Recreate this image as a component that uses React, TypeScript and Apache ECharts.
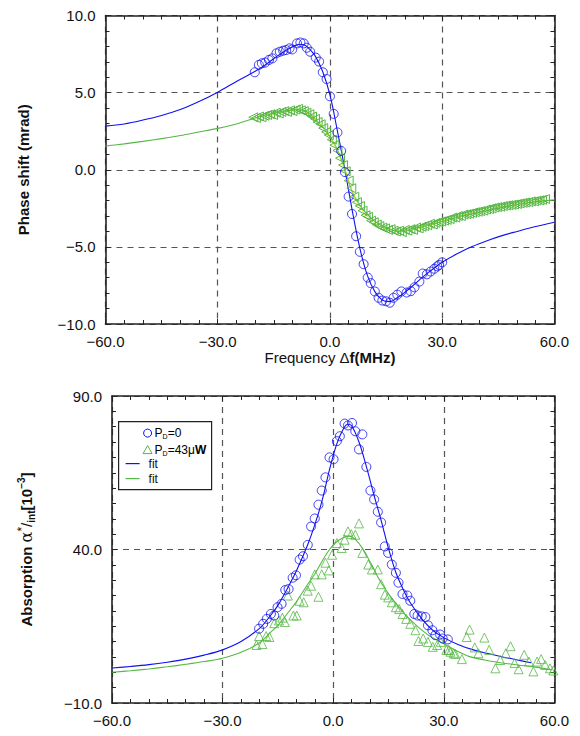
import React, { useEffect, useRef } from "react";
import * as echarts from "echarts";

// ---------- Data ----------
// Top panel: phase shift (mrad) vs frequency detuning (MHz)
const phaseP0: number[][] = [
  [-20.1, 6.32], [-19.0, 6.8], [-18.2, 6.9], [-17.3, 6.95], [-16.3, 7.12], [-15.4, 7.22],
  [-14.3, 7.55], [-13.4, 7.65], [-12.5, 7.72], [-11.7, 7.76], [-10.8, 7.87], [-10.1, 7.8],
  [-8.8, 8.19], [-7.9, 8.25], [-7.0, 8.19], [-6.2, 7.91], [-5.3, 7.65], [-3.8, 7.27],
  [-2.9, 7.01], [-1.9, 6.32], [-0.9, 5.88], [0.0, 4.76], [1.0, 3.62], [2.0, 2.42],
  [3.0, 1.22], [4.0, -0.15], [5.0, -1.74], [5.9, -2.87], [7.0, -4.31], [8.0, -5.32],
  [9.0, -6.12], [10.1, -6.99], [10.9, -7.35], [12.0, -7.89], [13.0, -8.3], [14.0, -8.48],
  [15.0, -8.53], [16.0, -8.62], [17.0, -8.3], [18.0, -8.1], [19.1, -7.89], [20.5, -7.96],
  [21.6, -7.87], [22.6, -7.62], [23.9, -7.25], [24.8, -6.73], [25.9, -6.78], [26.9, -6.6],
  [27.9, -6.42], [28.7, -6.26], [29.2, -6.17], [30.0, -6.0]
];
const phaseP43: number[][] = [
  [-20.5, 3.4], [-19.8, 3.35], [-19.0, 3.45], [-18.3, 3.4], [-17.5, 3.5], [-16.8, 3.55],
  [-16.0, 3.6], [-15.2, 3.55], [-14.5, 3.7], [-13.7, 3.65], [-13.0, 3.75], [-12.2, 3.8],
  [-11.5, 3.75], [-10.7, 3.85], [-10.0, 3.8], [-9.2, 3.9], [-8.5, 3.95], [-7.8, 3.85],
  [-7.0, 3.8], [-6.3, 3.7], [-5.5, 3.6], [-4.8, 3.45], [-4.0, 3.3], [-3.3, 3.1],
  [-2.5, 2.95], [-1.8, 2.7], [-1.0, 2.45], [-0.3, 2.25], [0.5, 1.95], [1.2, 1.6],
  [2.0, 1.25], [2.7, 0.75], [3.5, 0.3], [4.2, -0.1], [5.0, -0.7], [5.7, -1.2],
  [6.5, -1.75], [7.2, -2.1], [8.0, -2.35], [8.7, -2.65], [9.5, -2.95], [10.2, -3.05],
  [11.0, -3.3], [11.7, -3.4], [12.5, -3.55], [13.2, -3.65], [14.0, -3.75], [14.7, -3.8],
  [15.5, -3.9], [16.2, -3.85], [17.0, -3.95], [17.7, -4.0], [18.5, -3.95], [19.2, -4.05],
  [20.0, -3.9], [20.7, -3.95], [21.5, -3.85], [22.2, -3.9], [23.0, -3.75], [23.7, -3.8],
  [24.5, -3.7], [25.2, -3.65], [26.0, -3.6], [26.7, -3.5], [27.5, -3.55], [28.2, -3.45],
  [29.0, -3.4], [29.7, -3.35], [30.5, -3.3], [31.2, -3.25], [32.0, -3.2], [32.7, -3.1],
  [33.5, -3.1], [34.2, -3.0], [35.0, -3.0], [35.7, -2.9], [36.5, -2.88], [37.2, -2.85],
  [38.0, -2.8], [38.7, -2.75], [39.5, -2.72], [40.2, -2.68], [41.0, -2.65], [41.7, -2.58],
  [42.5, -2.55], [43.2, -2.5], [44.0, -2.45], [44.7, -2.42], [45.5, -2.4], [46.2, -2.35],
  [47.0, -2.32], [47.7, -2.3], [48.5, -2.28], [49.2, -2.25], [50.0, -2.22], [50.7, -2.18],
  [51.5, -2.15], [52.2, -2.12], [53.0, -2.1], [53.7, -2.05], [54.5, -2.05], [55.2, -2.0],
  [56.0, -1.98], [56.7, -1.95], [57.5, -1.9]
];
const phaseFitP0: number[][] = [
  [-60, 2.83], [-55, 2.97], [-50, 3.22], [-45, 3.52], [-40, 3.9], [-35, 4.42], [-30, 5.03],
  [-25, 5.72], [-20, 6.38], [-17, 6.85], [-14, 7.38], [-11, 7.85], [-9, 8.08], [-8, 8.14],
  [-7, 8.1], [-6, 7.95], [-4, 7.4], [-2, 6.4], [0, 4.85], [2, 2.5], [4, 0.0], [6, -2.7],
  [8, -5.1], [10, -6.85], [12, -7.9], [14, -8.45], [16, -8.55], [18, -8.3], [20, -7.95],
  [22, -7.55], [24, -7.12], [26, -6.72], [28, -6.35], [30, -6.0], [34, -5.45], [38, -4.98],
  [42, -4.6], [46, -4.27], [50, -4.0], [55, -3.68], [60, -3.4]
];
const phaseFitP43: number[][] = [
  [-60, 1.54], [-55, 1.68], [-50, 1.84], [-45, 2.02], [-40, 2.22], [-35, 2.45], [-30, 2.68],
  [-25, 2.97], [-20, 3.36], [-15, 3.65], [-12, 3.8], [-9, 3.9], [-7, 3.85], [-5, 3.55],
  [-3, 3.05], [-1, 2.5], [0, 2.15], [2, 1.3], [4, 0.0], [6, -1.45], [8, -2.3], [10, -2.9],
  [12, -3.35], [14, -3.65], [16, -3.85], [18, -3.97], [20, -3.98], [22, -3.88], [25, -3.65],
  [30, -3.35], [35, -3.02], [40, -2.75], [45, -2.5], [50, -2.25], [55, -2.07], [60, -1.95]
];

// Bottom panel: absorption (10^-3) vs frequency detuning (MHz)
const absP0: number[][] = [
  [-20.1, 14.2], [-19.0, 15.8], [-18.0, 17.4], [-16.9, 19.0], [-16.0, 18.5], [-15.1, 21.2],
  [-14.0, 22.3], [-13.0, 26.8], [-12.1, 27.1], [-11.0, 30.8], [-10.1, 31.6], [-9.1, 36.7],
  [-8.2, 37.8], [-6.9, 41.5], [-6.0, 47.5], [-5.0, 50.1], [-4.0, 54.6], [-3.1, 59.2],
  [-2.1, 63.5], [-1.0, 70.0], [0.1, 69.4], [1.0, 75.3], [1.8, 76.9], [3.1, 81.0],
  [4.0, 80.4], [5.1, 81.2], [6.0, 78.5], [7.0, 72.6], [7.9, 77.5], [9.0, 66.9],
  [10.1, 59.2], [11.1, 56.3], [12.1, 52.3], [13.0, 48.8], [14.0, 41.0], [14.9, 38.9],
  [15.9, 35.1], [17.0, 32.4], [17.7, 29.2], [18.8, 25.5], [20.1, 25.0], [20.9, 23.3],
  [22.0, 19.0], [22.9, 18.5], [24.0, 18.2], [25.0, 18.0], [25.7, 15.3], [26.9, 13.7],
  [27.7, 12.1], [29.0, 12.3], [29.7, 11.0], [31.1, 10.7]
];
const absP43: number[][] = [
  [-20.8, 8.9], [-19.2, 9.2], [-20.1, 11.8], [-18.2, 11.8], [-17.3, 11.5], [-16.0, 16.0],
  [-14.7, 16.9], [-13.8, 17.8], [-13.1, 16.4], [-12.3, 25.0], [-10.8, 18.5], [-9.9, 18.5],
  [-9.1, 23.3], [-8.0, 22.8], [-6.9, 26.6], [-6.0, 28.2], [-5.0, 31.9], [-4.0, 24.6],
  [-3.1, 31.9], [-2.1, 35.7], [-1.2, 33.2], [-0.3, 38.3], [1.0, 42.1], [2.3, 40.5],
  [3.1, 43.2], [4.0, 45.9], [4.9, 45.0], [6.0, 44.8], [7.0, 48.5], [7.9, 38.9],
  [9.5, 35.1], [10.5, 33.5], [12.1, 33.5], [13.0, 28.7], [14.0, 25.3], [14.9, 24.4],
  [15.9, 22.8], [17.0, 21.2], [17.9, 20.6], [18.8, 19.0], [19.8, 17.4], [20.9, 15.8],
  [22.3, 13.7], [23.1, 10.2], [24.4, 11.0], [25.7, 9.9], [27.0, 8.3], [28.2, 8.9],
  [29.2, 9.9], [30.7, 7.3], [31.4, 7.3], [31.8, 6.7], [32.7, 6.2], [33.1, 6.0],
  [34.9, 4.3], [36.2, 11.5], [37.0, 13.9], [38.4, 8.1], [39.4, 6.2], [41.0, 11.3],
  [42.3, 7.3], [44.0, 1.3], [45.3, 4.0], [46.8, 6.2], [48.1, 8.5], [49.2, 3.0],
  [50.3, 1.0], [51.8, 5.7], [53.1, 3.5], [54.3, 0.3], [55.3, 3.5], [56.4, 4.3],
  [57.5, 2.4], [58.8, 1.3], [59.7, 0.6]
];
const absFitP0: number[][] = [
  [-60, 1.4], [-55, 1.9], [-50, 2.5], [-45, 3.3], [-40, 4.3], [-35, 5.6], [-30, 7.3],
  [-25, 10.0], [-20, 14.3], [-17, 18.5], [-15, 21.8], [-12, 28.3], [-10, 33.0], [-7, 41.3],
  [-5, 48.0], [-3, 56.0], [-1, 66.0], [1, 74.5], [3, 79.8], [4, 80.8], [5, 80.3], [7, 75.0],
  [9, 67.0], [11, 58.0], [13, 49.5], [15, 40.3], [17, 32.5], [19, 27.0], [21, 22.5],
  [24, 17.5], [27, 13.7], [30, 11.3], [34, 9.0], [38, 7.3], [42, 6.1], [46, 5.0],
  [50, 4.0], [53.7, 3.1]
];
const absFitP43: number[][] = [
  [-60, 0.0], [-55, 0.5], [-50, 1.1], [-45, 1.8], [-40, 2.6], [-35, 3.5], [-30, 4.6],
  [-25, 6.5], [-20, 9.6], [-17, 13.0], [-15, 15.3], [-12, 19.8], [-10, 23.0], [-7, 28.5],
  [-5, 32.0], [-3, 36.2], [-1, 40.0], [1, 42.6], [3, 44.0], [4.5, 44.3], [6, 43.3],
  [8, 40.3], [10, 36.0], [12, 31.3], [14, 27.3], [16, 24.0], [18, 21.0], [20, 18.2],
  [23, 14.8], [26, 12.0], [30, 9.3], [33, 7.3], [37, 5.1], [41, 4.0], [45, 3.2],
  [50, 2.4], [55, 1.7], [59.3, 0.8]
];

const xTicks = { min: -60, max: 60, interval: 30 };
const phaseTicks = { min: -10, max: 10, interval: 5 };
const absTicks = { min: -10, max: 90, interval: 50 };

const BLUE = "#1010f0";
const GREEN = "#55b845";
const FONT = "'Liberation Sans', Arial, Helvetica, sans-serif";

const fmt = (v: number) => (v < 0 ? "\u2212" : "") + Math.abs(v).toFixed(1);

function axisBase(show: boolean) {
  return {
    axisLine: { show: true, onZero: false, lineStyle: { color: "#222", width: 1.6 } },
    axisTick: { show: true, inside: true, length: 5, lineStyle: { color: "#222", width: 1 } },
    minorTick: { show: true, length: 4, lineStyle: { color: "#222", width: 1 } },
    axisLabel: show
      ? { show: true, formatter: fmt, color: "#111", fontSize: 15, fontFamily: FONT, margin: 10 }
      : { show: false },
  };
}

const splitDash = {
  show: true,
  lineStyle: { color: "#555", type: [6, 5] as any, width: 1.2 },
};

export default function App() {
  const ref = useRef<HTMLDivElement>(null);
  useEffect(() => {
    if (!ref.current) return;
    const chart = echarts.init(ref.current, undefined, { renderer: "svg" });
    const grids = [
      { left: 95, right: 9, top: 5, height: 311 },
      { left: 95, right: 9, top: 388, height: 311 },
    ];
    const xAxis: any[] = [];
    const yAxis: any[] = [];
    grids.forEach((_, gi) => {
      const isTop = gi === 0;
      xAxis.push({
        type: "value", gridIndex: gi, ...xTicks, position: "bottom",
        ...axisBase(true),
        minorTick: { ...axisBase(true).minorTick, splitNumber: 6 },
        splitLine: splitDash,
        name: isTop ? "{n|Frequency \u0394}{b|f(MHz)}" : "",
        nameLocation: "middle",
        nameGap: 24,
        nameTextStyle: {
          fontFamily: FONT, fontSize: 15, color: "#111",
          rich: {
            n: { fontFamily: FONT, fontSize: 15, color: "#111" },
            b: { fontFamily: FONT, fontSize: 15, fontWeight: "bold", color: "#111" },
          },
        },
      });
      xAxis.push({
        type: "value", gridIndex: gi, ...xTicks, position: "top",
        ...axisBase(false),
        minorTick: { ...axisBase(false).minorTick, splitNumber: 6 },
        splitLine: { show: false },
      });
      const yt = isTop ? phaseTicks : absTicks;
      const ySplit = isTop ? 5 : 10;
      yAxis.push({
        type: "value", gridIndex: gi, ...yt, position: "left",
        ...axisBase(true),
        minorTick: { ...axisBase(true).minorTick, splitNumber: ySplit },
        splitLine: splitDash,
        name: isTop
          ? "{b|Phase shift (mrad)}"
          : "{b|Absorption }{a|\u03b1}{s|*}{n|/}{sub|int}{b|[10}{sup|\u22123}{b|]}",
        nameLocation: "middle",
        nameGap: isTop ? 72 : 76,
        nameRotate: 90,
        nameTextStyle: {
          fontFamily: FONT, fontSize: 15, color: "#111",
          rich: {
            b: { fontFamily: FONT, fontSize: 15, fontWeight: "bold", color: "#111", lineHeight: 20 },
            a: { fontFamily: "'DejaVu Serif', serif", fontSize: 16, color: "#111", lineHeight: 20 },
            s: { fontFamily: FONT, fontSize: 12, color: "#111", verticalAlign: "top", lineHeight: 20 },
            n: { fontFamily: FONT, fontSize: 15, color: "#111", lineHeight: 20 },
            sub: { fontFamily: FONT, fontSize: 10, fontWeight: "bold", color: "#111", verticalAlign: "bottom", lineHeight: 20 },
            sup: { fontFamily: FONT, fontSize: 10, fontWeight: "bold", color: "#111", verticalAlign: "top", lineHeight: 20 },
          },
        },
      });
      yAxis.push({
        type: "value", gridIndex: gi, ...yt, position: "right",
        ...axisBase(false),
        minorTick: { ...axisBase(false).minorTick, splitNumber: ySplit },
        splitLine: { show: false },
      });
    });

    const line = (data: number[][], color: string, xi: number, yi: number) => ({
      type: "line", data, xAxisIndex: xi, yAxisIndex: yi, smooth: 0.35,
      showSymbol: false, symbol: "none", lineStyle: { color, width: 1.1 }, z: 2,
    });
    const hollow = (color: string) => ({ color: "rgba(255,255,255,0)", borderColor: color, borderWidth: 1 });

    const series: any[] = [
      line(phaseFitP0, BLUE, 0, 0),
      line(phaseFitP43, GREEN, 0, 0),
      {
        type: "line", data: phaseP43, xAxisIndex: 0, yAxisIndex: 0, smooth: 0.3,
        symbol: "triangle", symbolSize: 9, symbolRotate: 90, showSymbol: true,
        lineStyle: { color: "#e6e600", width: 0.8 }, itemStyle: hollow(GREEN), z: 3,
      },
      {
        type: "scatter", data: phaseP0, xAxisIndex: 0, yAxisIndex: 0,
        symbol: "circle", symbolSize: 9, itemStyle: hollow(BLUE), z: 4,
      },
      line(absFitP0, BLUE, 2, 2),
      line(absFitP43, GREEN, 2, 2),
      {
        type: "scatter", data: absP0, xAxisIndex: 2, yAxisIndex: 2,
        symbol: "circle", symbolSize: 9, itemStyle: hollow(BLUE), z: 4,
      },
      {
        type: "scatter", data: absP43, xAxisIndex: 2, yAxisIndex: 2,
        symbol: "triangle", symbolSize: 9, itemStyle: hollow(GREEN), z: 3,
      },
    ];

    const legendRich = {
      p: { fontFamily: FONT, fontSize: 12, color: "#111", lineHeight: 14 },
      d: { fontFamily: FONT, fontSize: 7, color: "#111", verticalAlign: "bottom", lineHeight: 14 },
      w: { fontFamily: FONT, fontSize: 12, fontWeight: "bold", color: "#111", lineHeight: 14 },
    };
    const graphic: any[] = [
      {
        type: "group", left: 110, top: 413, children: [
          { type: "rect", shape: { x: 0, y: 0, width: 93, height: 68 }, style: { fill: "#fff", stroke: "#222", lineWidth: 1.2 } },
          { type: "circle", shape: { cx: 29, cy: 11.5, r: 4 }, style: { fill: "none", stroke: BLUE, lineWidth: 1 } },
          { type: "text", x: 36, y: 11.5, style: { text: "{p|P}{d|D}{p|=0}", rich: legendRich, verticalAlign: "middle" } },
          { type: "polygon", shape: { points: [[29, 24], [24.5, 32], [33.5, 32]] }, style: { fill: "none", stroke: GREEN, lineWidth: 1 } },
          { type: "text", x: 36, y: 28.5, style: { text: "{p|P}{d|D}{p|=43\u03bc}{w|W}", rich: legendRich, verticalAlign: "middle" } },
          { type: "line", shape: { x1: 7, y1: 42, x2: 21, y2: 42 }, style: { stroke: BLUE, lineWidth: 1.2 } },
          { type: "text", x: 30, y: 42, style: { text: "fit", font: `12px ${FONT}`, fill: "#111", verticalAlign: "middle" } },
          { type: "line", shape: { x1: 7, y1: 57, x2: 21, y2: 57 }, style: { stroke: GREEN, lineWidth: 1.2 } },
          { type: "text", x: 30, y: 57, style: { text: "fit", font: `12px ${FONT}`, fill: "#111", verticalAlign: "middle" } },
        ],
      },
    ];

    chart.setOption({
      animation: false,
      backgroundColor: "#fff",
      grid: grids,
      xAxis, yAxis, series, graphic,
    });
    return () => chart.dispose();
  }, []);
  return <div ref={ref} style={{ width: 564, height: 720 }} />;
}
